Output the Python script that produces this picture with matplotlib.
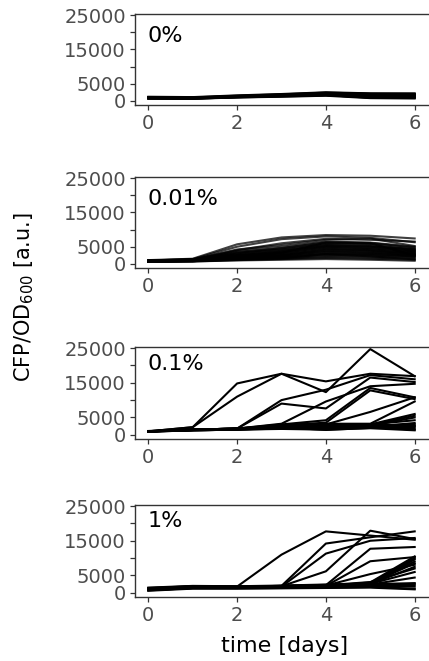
import matplotlib
matplotlib.use('Agg')
import matplotlib.pyplot as plt

days = [0, 1, 2, 3, 4, 5, 6]
panel_labels = ['0%', '0.01%', '0.1%', '1%']

conc_0 = [
    [900, 800, 1300, 1600, 2000, 1500, 1400],
    [1000, 900, 1400, 1800, 2200, 1900, 1700],
    [800, 700, 1200, 1500, 1800, 1200, 1100],
    [1100, 1000, 1500, 1900, 2400, 2100, 2000],
    [700, 600, 1100, 1400, 1700, 900, 900],
    [950, 850, 1250, 1700, 2100, 1700, 1500],
    [850, 750, 1150, 1550, 1900, 1400, 1300],
    [1050, 950, 1350, 1750, 2300, 2000, 1800],
    [750, 700, 1000, 1300, 1600, 1100, 1000],
    [1000, 850, 1300, 1650, 1950, 1600, 1900],
    [900, 800, 1200, 1600, 2200, 1300, 1200],
    [800, 750, 1100, 1450, 1750, 1000, 1600],
    [600, 600, 1000, 1200, 1500, 800, 700],
    [1200, 1100, 1600, 2000, 2500, 2200, 2200],
]

conc_001 = [
    [1100, 1500, 5700, 7700, 8400, 8200, 7400],
    [1000, 1400, 5000, 7200, 8000, 7600, 6300],
    [1000, 1300, 4200, 5500, 7000, 7400, 5200],
    [1000, 1200, 4000, 6000, 7300, 7000, 6500],
    [900, 1200, 3800, 5000, 6500, 6200, 5000],
    [900, 1200, 3500, 4500, 6000, 5800, 4500],
    [1000, 1300, 3300, 4200, 5800, 5500, 4200],
    [800, 1000, 2100, 3200, 6200, 6000, 2500],
    [800, 1100, 3000, 4000, 5500, 5200, 4000],
    [900, 1200, 2800, 3800, 5200, 5000, 3800],
    [800, 1100, 2600, 3500, 5000, 4600, 3600],
    [900, 1100, 2400, 3300, 4700, 4300, 3400],
    [800, 1000, 2200, 3000, 4400, 4000, 3200],
    [700, 1000, 2000, 2800, 4100, 3800, 3000],
    [800, 1000, 1900, 2600, 3800, 3500, 2800],
    [700, 900, 1700, 2400, 3500, 3200, 2600],
    [800, 900, 1600, 2200, 3200, 2900, 2400],
    [700, 900, 1500, 2000, 2900, 2600, 2200],
    [700, 800, 1400, 1800, 2600, 2400, 2000],
    [700, 800, 1300, 1700, 2800, 2200, 1300],
    [600, 800, 1300, 1600, 2300, 2100, 1800],
    [700, 800, 1200, 1500, 2000, 1800, 1500],
    [600, 700, 1100, 1400, 1700, 1500, 1200],
    [600, 700, 1000, 1200, 1400, 1200, 900],
    [900, 1200, 3100, 4600, 6300, 6100, 4800],
    [800, 1100, 2500, 3600, 5400, 5000, 4300],
    [700, 1000, 2300, 3100, 4900, 4500, 3700],
    [800, 1000, 1800, 2500, 4300, 3900, 3100],
    [700, 900, 1600, 2300, 3700, 3300, 2700],
    [600, 800, 1400, 1900, 3000, 2800, 2300],
]

conc_01 = [
    [1000, 2200, 14800, 17600, 15400, 17600, 16900],
    [1000, 2200, 11000, 17600, 12300, 24700, 16900],
    [1000, 1500, 1800, 10000, 13000, 17200, 16000],
    [1000, 1500, 1800, 9000, 7600, 16500, 15200],
    [1000, 1500, 1800, 3200, 9600, 14000, 14700],
    [1000, 1500, 1800, 3000, 4200, 13500, 10800],
    [1000, 1500, 1800, 2800, 3500, 12800, 10300],
    [1000, 1500, 1800, 2500, 3000, 6600, 10800],
    [1000, 1500, 1800, 2600, 3200, 3200, 9600],
    [1000, 1400, 1700, 2200, 2800, 3000, 6000],
    [1000, 1400, 1700, 2400, 2600, 2800, 5500],
    [1000, 1400, 1700, 2000, 2400, 2600, 5000],
    [1000, 1400, 1600, 2800, 2500, 3000, 4200],
    [1000, 1400, 1600, 2600, 2200, 2800, 2700],
    [900, 1300, 1500, 2000, 1800, 2400, 2200],
    [1100, 1500, 1700, 2400, 2000, 2600, 1800],
    [900, 1300, 1500, 1800, 1600, 2200, 1500],
    [1000, 1400, 1600, 2200, 1400, 2000, 2500],
    [1100, 1300, 1500, 1700, 1500, 1900, 1300],
    [900, 1400, 1600, 2500, 2600, 2700, 3000],
    [1000, 1300, 1500, 2100, 1900, 2300, 3400],
]

conc_1 = [
    [1200, 1800, 1800, 11000, 17700, 16500, 15300],
    [1000, 1600, 1500, 2000, 14200, 16000, 17700],
    [1100, 1700, 1600, 1800, 11300, 15000, 15800],
    [1000, 1600, 1700, 1900, 6200, 17900, 15500],
    [1100, 1700, 1600, 1700, 2200, 12700, 13200],
    [1000, 1600, 1500, 1800, 2000, 9100, 10300],
    [1000, 1500, 1600, 1700, 2100, 5400, 8100],
    [900, 1500, 1500, 1600, 2000, 3000, 10500],
    [1000, 1600, 1600, 1800, 1900, 2800, 10000],
    [1100, 1700, 1500, 1700, 2100, 2600, 9600],
    [800, 1400, 1400, 1600, 1800, 2900, 9000],
    [1200, 1800, 1700, 1900, 2200, 2700, 8500],
    [900, 1500, 1500, 1700, 2000, 2500, 7500],
    [1000, 1600, 1600, 1800, 2200, 3100, 7000],
    [1300, 1900, 1800, 2000, 2300, 2600, 6000],
    [700, 1400, 1400, 1500, 1700, 2400, 4400],
    [1000, 1500, 1400, 1600, 1800, 2200, 2600],
    [1200, 1700, 1600, 1700, 1900, 2000, 1800],
    [800, 1300, 1300, 1400, 1500, 1700, 1200],
    [1500, 2000, 1900, 2100, 2400, 2500, 2800],
    [600, 1200, 1200, 1300, 1400, 1500, 1000],
    [1400, 1900, 1800, 2000, 2200, 2300, 2200],
]

panel_data = [conc_0, conc_001, conc_01, conc_1]
panel_alpha = [1.0, 0.75, 1.0, 1.0]

# panel boxes in pixels (top, bottom) on a 429x661 canvas
W, H = 429, 661
panel_px = [(14, 105), (177, 268), (347, 439), (505, 597)]
label_y = [0.69, 0.69, 0.75, 0.76]
left_px, right_px = 135, 428

spine_col = '#333333'
tick_col = '#4D4D4D'

fig = plt.figure(figsize=(W / 100, H / 100), dpi=100)

for i, (top, bot) in enumerate(panel_px):
    ax = fig.add_axes([left_px / W, 1 - bot / H,
                       (right_px - left_px) / W, (bot - top) / H])
    for series in panel_data[i]:
        ax.plot(days, series, color='black', linewidth=1.5,
                alpha=panel_alpha[i])
    ax.set_xlim(-0.3, 6.3)
    ax.set_ylim(-1200, 25300)
    ax.set_xticks([0, 2, 4, 6])
    ax.set_yticks([0, 5000, 10000, 15000, 20000, 25000])
    ax.set_yticklabels(['0', '5000', '', '15000', '', '25000'])
    ax.tick_params(axis='both', colors=spine_col, labelcolor=tick_col,
                   labelsize=14, length=3.5, width=0.9, pad=3)
    for side in ['left', 'top', 'bottom']:
        ax.spines[side].set_color(spine_col)
        ax.spines[side].set_linewidth(1.0)
    ax.spines['right'].set_visible(False)
    ax.text(0.044, label_y[i], panel_labels[i], transform=ax.transAxes,
            fontsize=16, color='black', va='baseline', ha='left')

fig.text(24 / W, 1 - 297 / H, r'CFP/OD$_{600}$ [a.u.]', rotation=90,
         fontsize=15, va='center', ha='center')
fig.text(285 / W, 1 - 652 / H, 'time [days]', fontsize=16,
         va='baseline', ha='center')

fig.savefig('out.png', dpi=100)
